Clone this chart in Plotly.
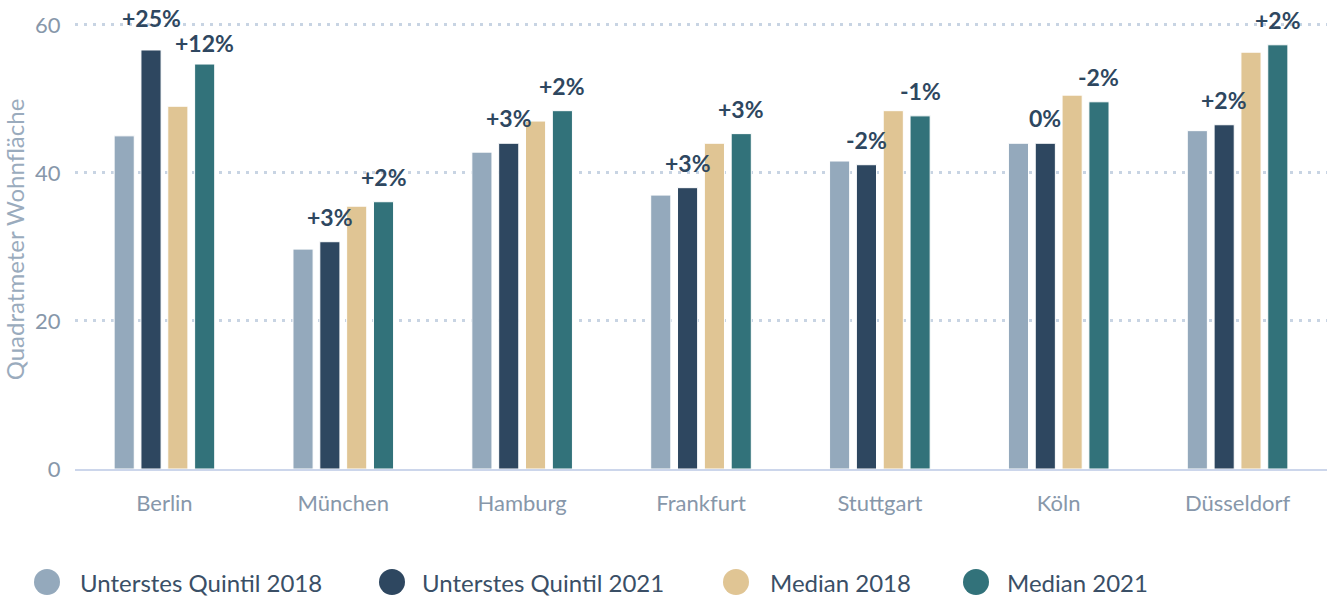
import plotly.graph_objects as go

cities = ["Berlin", "München", "Hamburg", "Frankfurt", "Stuttgart", "Köln", "Düsseldorf"]
series_names = ["Unterstes Quintil 2018", "Unterstes Quintil 2021", "Median 2018", "Median 2021"]
q_2018 = [45.0, 29.7, 42.8, 37.0, 41.6, 44.0, 45.7]
q_2021 = [56.6, 30.7, 44.0, 38.0, 41.1, 44.0, 46.5]
m_2018 = [49.0, 35.5, 47.0, 44.0, 48.4, 50.5, 56.3]
m_2021 = [54.7, 36.1, 48.4, 45.3, 47.7, 49.6, 57.3]
q_change = ["+25%", "+3%", "+3%", "+3%", "-2%", "0%", "+2%"]
m_change = ["+12%", "+2%", "+2%", "+3%", "-1%", "-2%", "+2%"]
y_ticks = [0, 20, 40, 60]

colors = ["#94a9bc", "#2e4760", "#e0c594", "#32727a"]
FONT = "Lato, 'Source Sans Pro', 'Open Sans', sans-serif"

W, H = 1331, 597
ML, MR, MT, MB = 75, 4, 10, 128
plot_w = W - ML - MR
plot_h = H - MT - MB

fig = go.Figure()
for name, vals, col in zip(series_names, [q_2018, q_2021, m_2018, m_2021], colors):
    fig.add_trace(go.Bar(
        x=cities, y=vals, name=name, marker=dict(color=col, line=dict(color="white", width=1)),
        showlegend=False, hoverinfo="x+y+name"))

# label annotations
slot = plot_w / len(cities) * 0.6 / 4
extra = {("Berlin", 0): 7, ("Berlin", 1): -4}
for ci, city in enumerate(cities):
    for k, (vals, labs, off) in enumerate([(q_2021, q_change, -0.5), (m_2021, m_change, 1.5)]):
        fig.add_annotation(
            x=city, y=vals[ci], xref="x", yref="y", text="<b>%s</b>" % labs[ci],
            showarrow=False, xshift=off * slot, yshift=25 + extra.get((city, k), 0),
            yanchor="middle", xanchor="center",
            font=dict(family=FONT, size=23, color="#2e4760"))

# manual legend with circles
leg_circle_x = [47, 392, 736, 976]
leg_text_x = [78, 420, 768, 1005]
leg_y = 582
for name, col, cx, tx in zip(series_names, colors, leg_circle_x, leg_text_x):
    px = (cx - ML) / plot_w
    py = (H - MB - leg_y) / plot_h
    fig.add_shape(type="circle", xref="paper", yref="paper", xsizemode="pixel", ysizemode="pixel",
                  xanchor=px, yanchor=py, x0=-13, x1=13, y0=-13, y1=13,
                  fillcolor=col, line=dict(width=0))
    fig.add_annotation(x=(tx - ML) / plot_w, y=py, xref="paper", yref="paper", text=name,
                       showarrow=False, xanchor="left", yanchor="middle",
                       font=dict(family=FONT, size=24, color="#3a4f66"))

fig.update_layout(
    width=W, height=H,
    margin=dict(l=ML, r=MR, t=MT, b=MB, autoexpand=False),
    plot_bgcolor="white", paper_bgcolor="white",
    barmode="group", bargap=0.4, bargroupgap=0.25,
    font=dict(family=FONT),
    showlegend=False,
    xaxis=dict(
        showline=True, linecolor="#ccd6eb", linewidth=2, showgrid=False,
        ticks="outside", ticklen=14, tickcolor="rgba(0,0,0,0)",
        tickfont=dict(family=FONT, size=22, color="#8797aa"), range=[-0.5, 6.5]),
    yaxis=dict(
        range=[0, 62], tickvals=y_ticks, showgrid=True, gridcolor="#c8d4e3", gridwidth=2.5,
        griddash="2.5px,6.5px", zeroline=False,
        ticks="outside", ticklen=9, tickcolor="rgba(0,0,0,0)",
        tickfont=dict(family=FONT, size=22, color="#8797aa"),
        title=dict(text="Quadratmeter Wohnfläche", standoff=12,
                   font=dict(family=FONT, size=24, color="#9aabbd"))),
)

fig.write_html("out.html", config={"displayModeBar": False},
               post_script="document.body.style.margin='0';document.body.style.overflow='hidden';")
